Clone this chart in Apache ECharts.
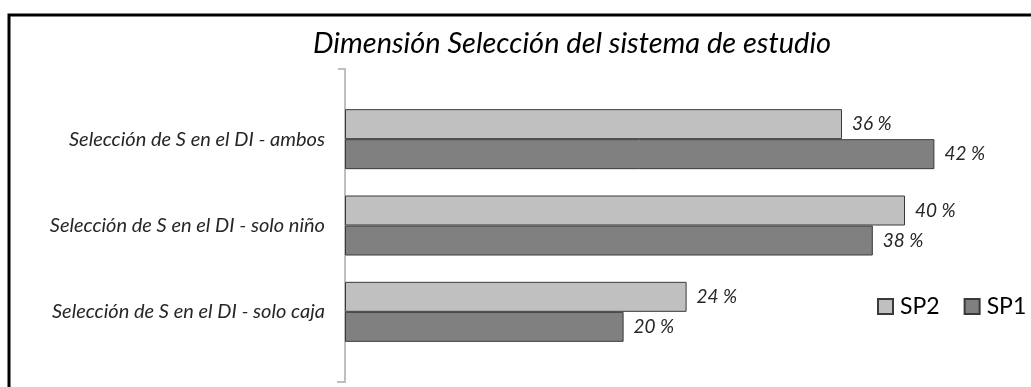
<!DOCTYPE html>
<html>
<head>
<meta charset="utf-8">
<script src="https://cdn.jsdelivr.net/npm/echarts@6/dist/echarts.min.js"></script>
<style>
html,body{margin:0;padding:0;background:#fff;}
#chart{width:1031px;height:387px;}
</style>
</head>
<body>
<div id="chart"></div>
<script>
var titleText = 'Dimensión Selección del sistema de estudio';
var categories = ['Selección de S en el DI - ambos', 'Selección de S en el DI - solo niño', 'Selección de S en el DI - solo caja'];
var sp2Values = [35.5, 40.0, 24.4];
var sp1Values = [42.1, 37.7, 19.9];
var seriesNames = ['SP2', 'SP1'];

var font = 'Lato, "Open Sans", sans-serif';
var chart = echarts.init(document.getElementById('chart'));

function labelCfg() {
  return {
    show: true,
    position: 'right',
    distance: 10,
    fontFamily: font,
    fontStyle: 'italic',
    fontSize: 19,
    color: '#262626',
    formatter: function (p) { return Math.round(p.value) + ' %'; }
  };
}

chart.setOption({
  animation: false,
  title: {
    text: titleText,
    left: 308,
    top: 24,
    textStyle: { fontFamily: font, fontStyle: 'italic', fontWeight: 'normal', fontSize: 29, color: '#000' }
  },
  legend: {
    data: seriesNames,
    orient: 'horizontal',
    left: 872,
    top: 290,
    width: 200,
    icon: 'rect',
    itemWidth: 15,
    itemHeight: 15,
    itemGap: 24,
    textStyle: { fontFamily: font, fontSize: 23, color: '#000', padding: [0, 0, 0, 2] }
  },
  grid: { left: 345, top: 96, height: 259, right: 14 },
  xAxis: {
    type: 'value', min: 0, max: 48,
    show: false
  },
  yAxis: {
    type: 'category',
    data: categories,
    inverse: true,
    axisLine: { show: false },
    axisTick: { show: false },
    axisLabel: { margin: 20, fontFamily: font, fontStyle: 'italic', fontSize: 20, color: '#262626' }
  },
  series: [
    {
      name: seriesNames[0], type: 'bar', data: sp2Values,
      barWidth: 30, barGap: '0%',
      itemStyle: { color: '#c0c0c0', borderColor: '#3a3a3a', borderWidth: 1 },
      label: labelCfg()
    },
    {
      name: seriesNames[1], type: 'bar', data: sp1Values,
      barWidth: 30, barGap: '0%',
      itemStyle: { color: '#808080', borderColor: '#3a3a3a', borderWidth: 1 },
      label: labelCfg()
    }
  ],
  graphic: [
    { type: 'rect', shape: { x: 9, y: 15, width: 1100, height: 500 }, style: { fill: 'none', stroke: '#000', lineWidth: 3 }, silent: true },
    { type: 'polyline', shape: { points: [[338, 69], [345, 69], [345, 382], [337, 382]] }, style: { fill: 'none', stroke: '#bfbfbf', lineWidth: 2 }, silent: true }
  ]
});
</script>
</body>
</html>
